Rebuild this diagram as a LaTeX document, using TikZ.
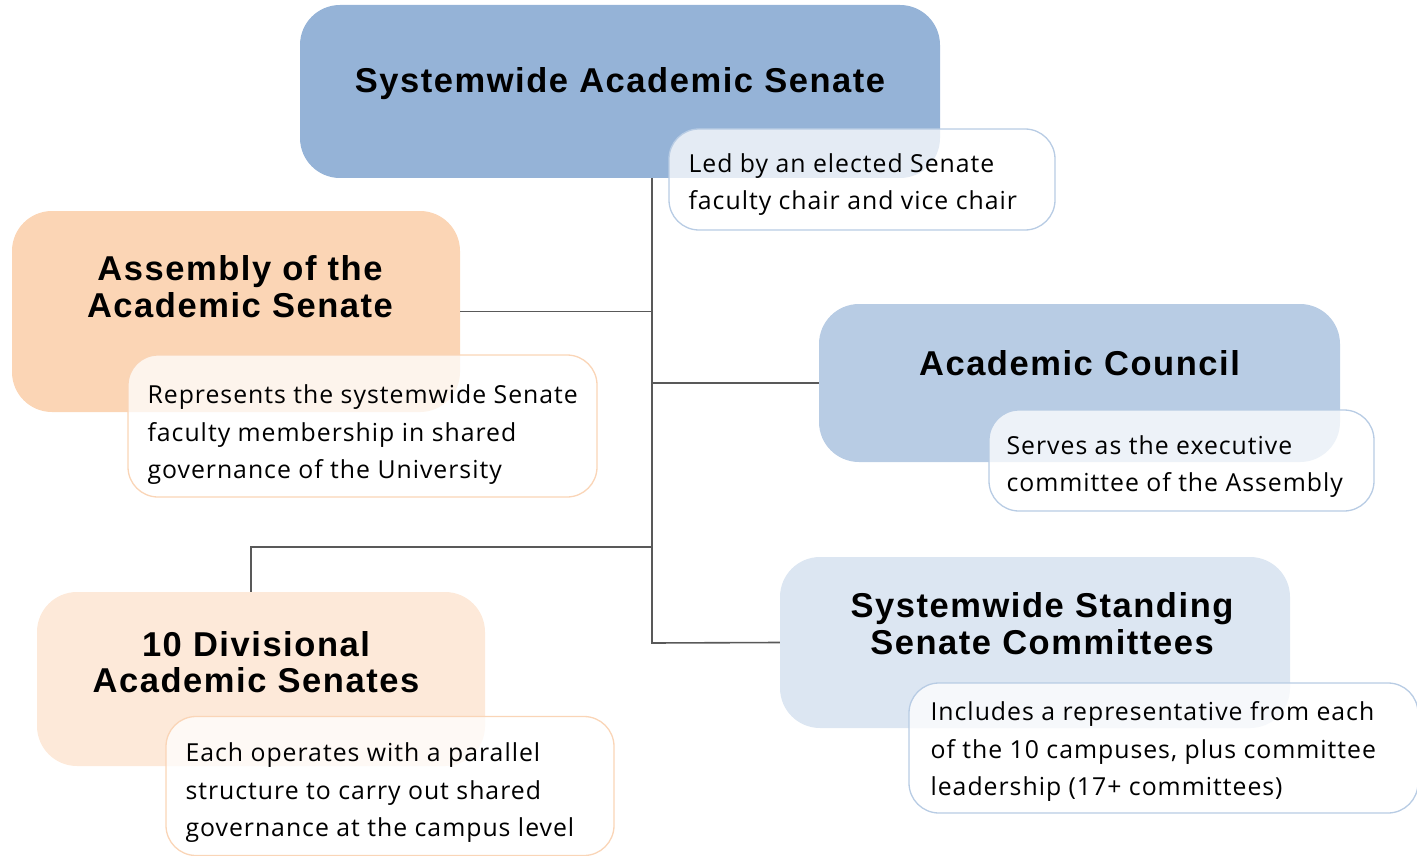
\documentclass[tikz,border=0pt]{standalone}
\usepackage{fontspec}
\setmainfont{Open Sans}
\newfontfamily\titlefont[LetterSpace=4.5]{Liberation Sans}
\newfontfamily\notefont[LetterSpace=4]{Open Sans}
\definecolor{topblue}{RGB}{149,179,215}
\definecolor{councilblue}{RGB}{184,204,228}
\definecolor{standblue}{RGB}{220,230,242}
\definecolor{asmpeach}{RGB}{251,213,181}
\definecolor{divpeach}{RGB}{253,233,217}
\definecolor{noteblue}{RGB}{184,204,228}
\definecolor{notepeach}{RGB}{250,213,183}
\definecolor{linkgray}{RGB}{89,89,89}
\tikzset{
  bigbox/.style={rectangle, rounded corners=40pt, draw=none, inner sep=0pt},
  titletext/.style={font=\titlefont\fontsize{34.5}{36.5}\selectfont\bfseries, align=center, text=black},
  notebox/.style={rectangle, rounded corners=30pt, line width=1.3pt, fill=white, fill opacity=0.75, inner sep=0pt},
  notetext/.style={anchor=west, inner xsep=20pt, inner ysep=0pt, align=left,
    font=\notefont\fontsize{24.8}{37.5}\selectfont, text=black},
  link/.style={draw=linkgray, line width=1.6pt}
}
\begin{document}
\begin{tikzpicture}[x=1pt, y=-1pt]
\useasboundingbox (0,0) rectangle (1417,856);
\coordinate (sp) at (652,643);
\coordinate (dj) at (251,547);

% big boxes
\node[bigbox, fill=topblue, minimum width=640pt, minimum height=173pt,
  label={[titletext, yshift=8pt]center:Systemwide Academic Senate}] (top) at (620,91.5) {};
\node[bigbox, fill=asmpeach, minimum width=448pt, minimum height=201pt,
  label={[titletext, yshift=25pt, xshift=4pt]center:Assembly of the\\Academic Senate}] (asm) at (236,311.5) {};
\node[bigbox, fill=councilblue, minimum width=521pt, minimum height=158pt,
  label={[titletext, yshift=20pt]center:Academic Council}] (council) at (1079.5,383) {};
\node[bigbox, fill=standblue, minimum width=510pt, minimum height=171pt,
  label={[titletext, yshift=19pt, xshift=7pt]center:Systemwide Standing\\Senate Committees}] (stand) at (1035,642.5) {};
\node[bigbox, fill=divpeach, minimum width=448pt, minimum height=174pt,
  label={[titletext, yshift=17pt, xshift=-5pt]center:10 Divisional\\Academic Senates}] (div) at (261,679) {};

% connectors
\draw[link] (top.south -| sp) -- (sp) -- (stand.west);
\draw[link] (asm.east) -- (asm.east -| sp);
\draw[link] (council.west -| sp) -- (council.west);
\draw[link] (dj -| sp) -- (dj) -- (dj |- div.north);

% notes
\node[notebox, draw=noteblue, minimum width=386pt, minimum height=101pt,
  label={[notetext, yshift=-5pt]west:{Led by an elected Senate\\faculty chair and vice chair}}] (topnote) at (862,179.5) {};
\node[notebox, draw=notepeach, minimum width=469pt, minimum height=142pt,
  label={[notetext, yshift=-9pt]west:{Represents the systemwide Senate\\faculty membership in shared\\governance of the University}}] (asmnote) at (362.5,426) {};
\node[notebox, draw=noteblue, minimum width=385pt, minimum height=101pt,
  label={[notetext, yshift=-6pt, xshift=-2pt]west:{Serves as the executive\\committee of the Assembly}}] (councilnote) at (1181.5,460.5) {};
\node[notebox, draw=noteblue, minimum width=509pt, minimum height=130pt,
  label={[notetext, yshift=-3.5pt, xshift=2pt]west:{Includes a representative from each\\of the 10 campuses, plus committee\\leadership (17+ committees)}}] (standnote) at (1163.5,748) {};
\node[notebox, draw=notepeach, minimum width=448pt, minimum height=139pt,
  label={[notetext, yshift=-7pt]west:{Each operates with a parallel\\structure to carry out shared\\governance at the campus level}}] (divnote) at (390,786) {};
\end{tikzpicture}
\end{document}
